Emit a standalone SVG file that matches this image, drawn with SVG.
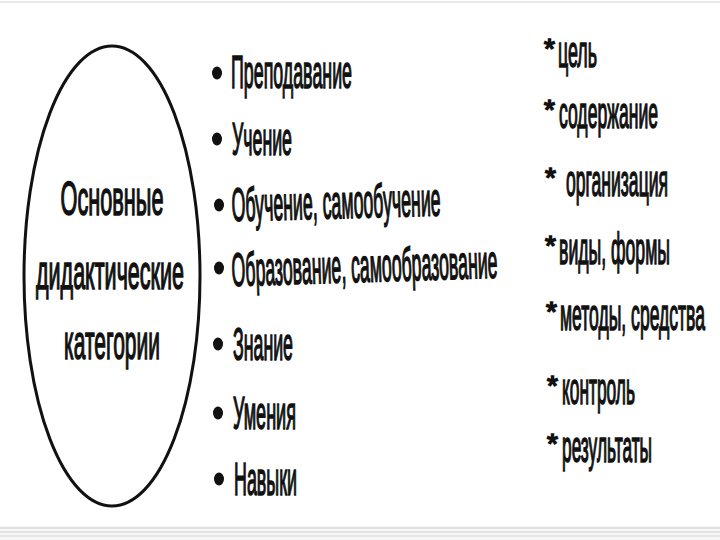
<svg xmlns="http://www.w3.org/2000/svg" width="720" height="540" viewBox="0 0 720 540">
<style>
  .t{font-family:"Liberation Sans","Noto Sans",Arial,sans-serif;fill:#111;stroke:#111;stroke-width:1.6;}
  .c{font-size:49px;text-anchor:middle;}
  .l{font-size:47px;}
  .r{font-size:44px;}
  .a{font-size:28px;}
  .dot{fill:#111;}
</style>
<rect x="0" y="0" width="720" height="540" fill="#ffffff"/>
<line x1="0" y1="2" x2="720" y2="2" stroke="#e2e2e2" stroke-width="1.5"/>
<rect x="0" y="526" width="720" height="14" fill="#f6f6f6"/>
<line x1="0" y1="528" x2="720" y2="528" stroke="#c9c9c9" stroke-width="1.2"/>
<line x1="0" y1="532" x2="720" y2="532" stroke="#d0d0d0" stroke-width="1.2"/>
<line x1="0" y1="536" x2="720" y2="536" stroke="#d6d6d6" stroke-width="1.2"/>

<g id="center">
  <ellipse cx="112" cy="276" rx="88" ry="230" fill="none" stroke="#111" stroke-width="3"/>
  <text class="t c" x="112" y="215" textLength="103" lengthAdjust="spacingAndGlyphs">Основные</text>
  <text class="t c" x="110" y="289" textLength="148" lengthAdjust="spacingAndGlyphs">дидактические</text>
  <text class="t c" x="112" y="359" textLength="96" lengthAdjust="spacingAndGlyphs">категории</text>
</g>

<g id="categories">
  <g id="item1"><ellipse class="dot" cx="217" cy="73" rx="5" ry="6.5"/><text class="t l" x="231" y="88" textLength="121" lengthAdjust="spacingAndGlyphs">Преподавание</text></g>
  <g id="item2"><ellipse class="dot" cx="217" cy="139" rx="5" ry="6.5"/><text class="t l" x="232" y="155" textLength="60" lengthAdjust="spacingAndGlyphs">Учение</text></g>
  <g id="item3"><ellipse class="dot" cx="219" cy="205" rx="5" ry="6.5"/><text class="t l" x="232" y="221" textLength="209" lengthAdjust="spacingAndGlyphs" transform="rotate(-1.5 232 221)">Обучение, самообучение</text></g>
  <g id="item4"><ellipse class="dot" cx="219" cy="268" rx="5" ry="6.5"/><text class="t l" x="232" y="286" textLength="266" lengthAdjust="spacingAndGlyphs" transform="rotate(-1.8 232 286)">Образование, самообразование</text></g>
  <g id="item5"><ellipse class="dot" cx="218" cy="344" rx="5" ry="6.5"/><text class="t l" x="233" y="360" textLength="60" lengthAdjust="spacingAndGlyphs">Знание</text></g>
  <g id="item6"><ellipse class="dot" cx="218" cy="413" rx="5" ry="6.5"/><text class="t l" x="233" y="429" textLength="63" lengthAdjust="spacingAndGlyphs">Умения</text></g>
  <g id="item7"><ellipse class="dot" cx="219" cy="479" rx="5" ry="6.5"/><text class="t l" x="234" y="495" textLength="63" lengthAdjust="spacingAndGlyphs">Навыки</text></g>
</g>

<g id="components">
  <g id="comp1"><text class="t a" x="544" y="58">*</text><text class="t r" x="558" y="67" textLength="39" lengthAdjust="spacingAndGlyphs">цель</text></g>
  <g id="comp2"><text class="t a" x="544" y="119">*</text><text class="t r" x="559" y="128" textLength="99" lengthAdjust="spacingAndGlyphs">содержание</text></g>
  <g id="comp3"><text class="t a" x="545" y="187">*</text><text class="t r" x="566" y="196" textLength="102" lengthAdjust="spacingAndGlyphs">организация</text></g>
  <g id="comp4"><text class="t a" x="545" y="255">*</text><text class="t r" x="559" y="264" textLength="111" lengthAdjust="spacingAndGlyphs">виды, формы</text></g>
  <g id="comp5"><text class="t a" x="546" y="321">*</text><text class="t r" x="560" y="330" textLength="145" lengthAdjust="spacingAndGlyphs">методы, средства</text></g>
  <g id="comp6"><text class="t a" x="547" y="395">*</text><text class="t r" x="562" y="404" textLength="73" lengthAdjust="spacingAndGlyphs">контроль</text></g>
  <g id="comp7"><text class="t a" x="547" y="453">*</text><text class="t r" x="562" y="462" textLength="90" lengthAdjust="spacingAndGlyphs">результаты</text></g>
</g>
</svg>
